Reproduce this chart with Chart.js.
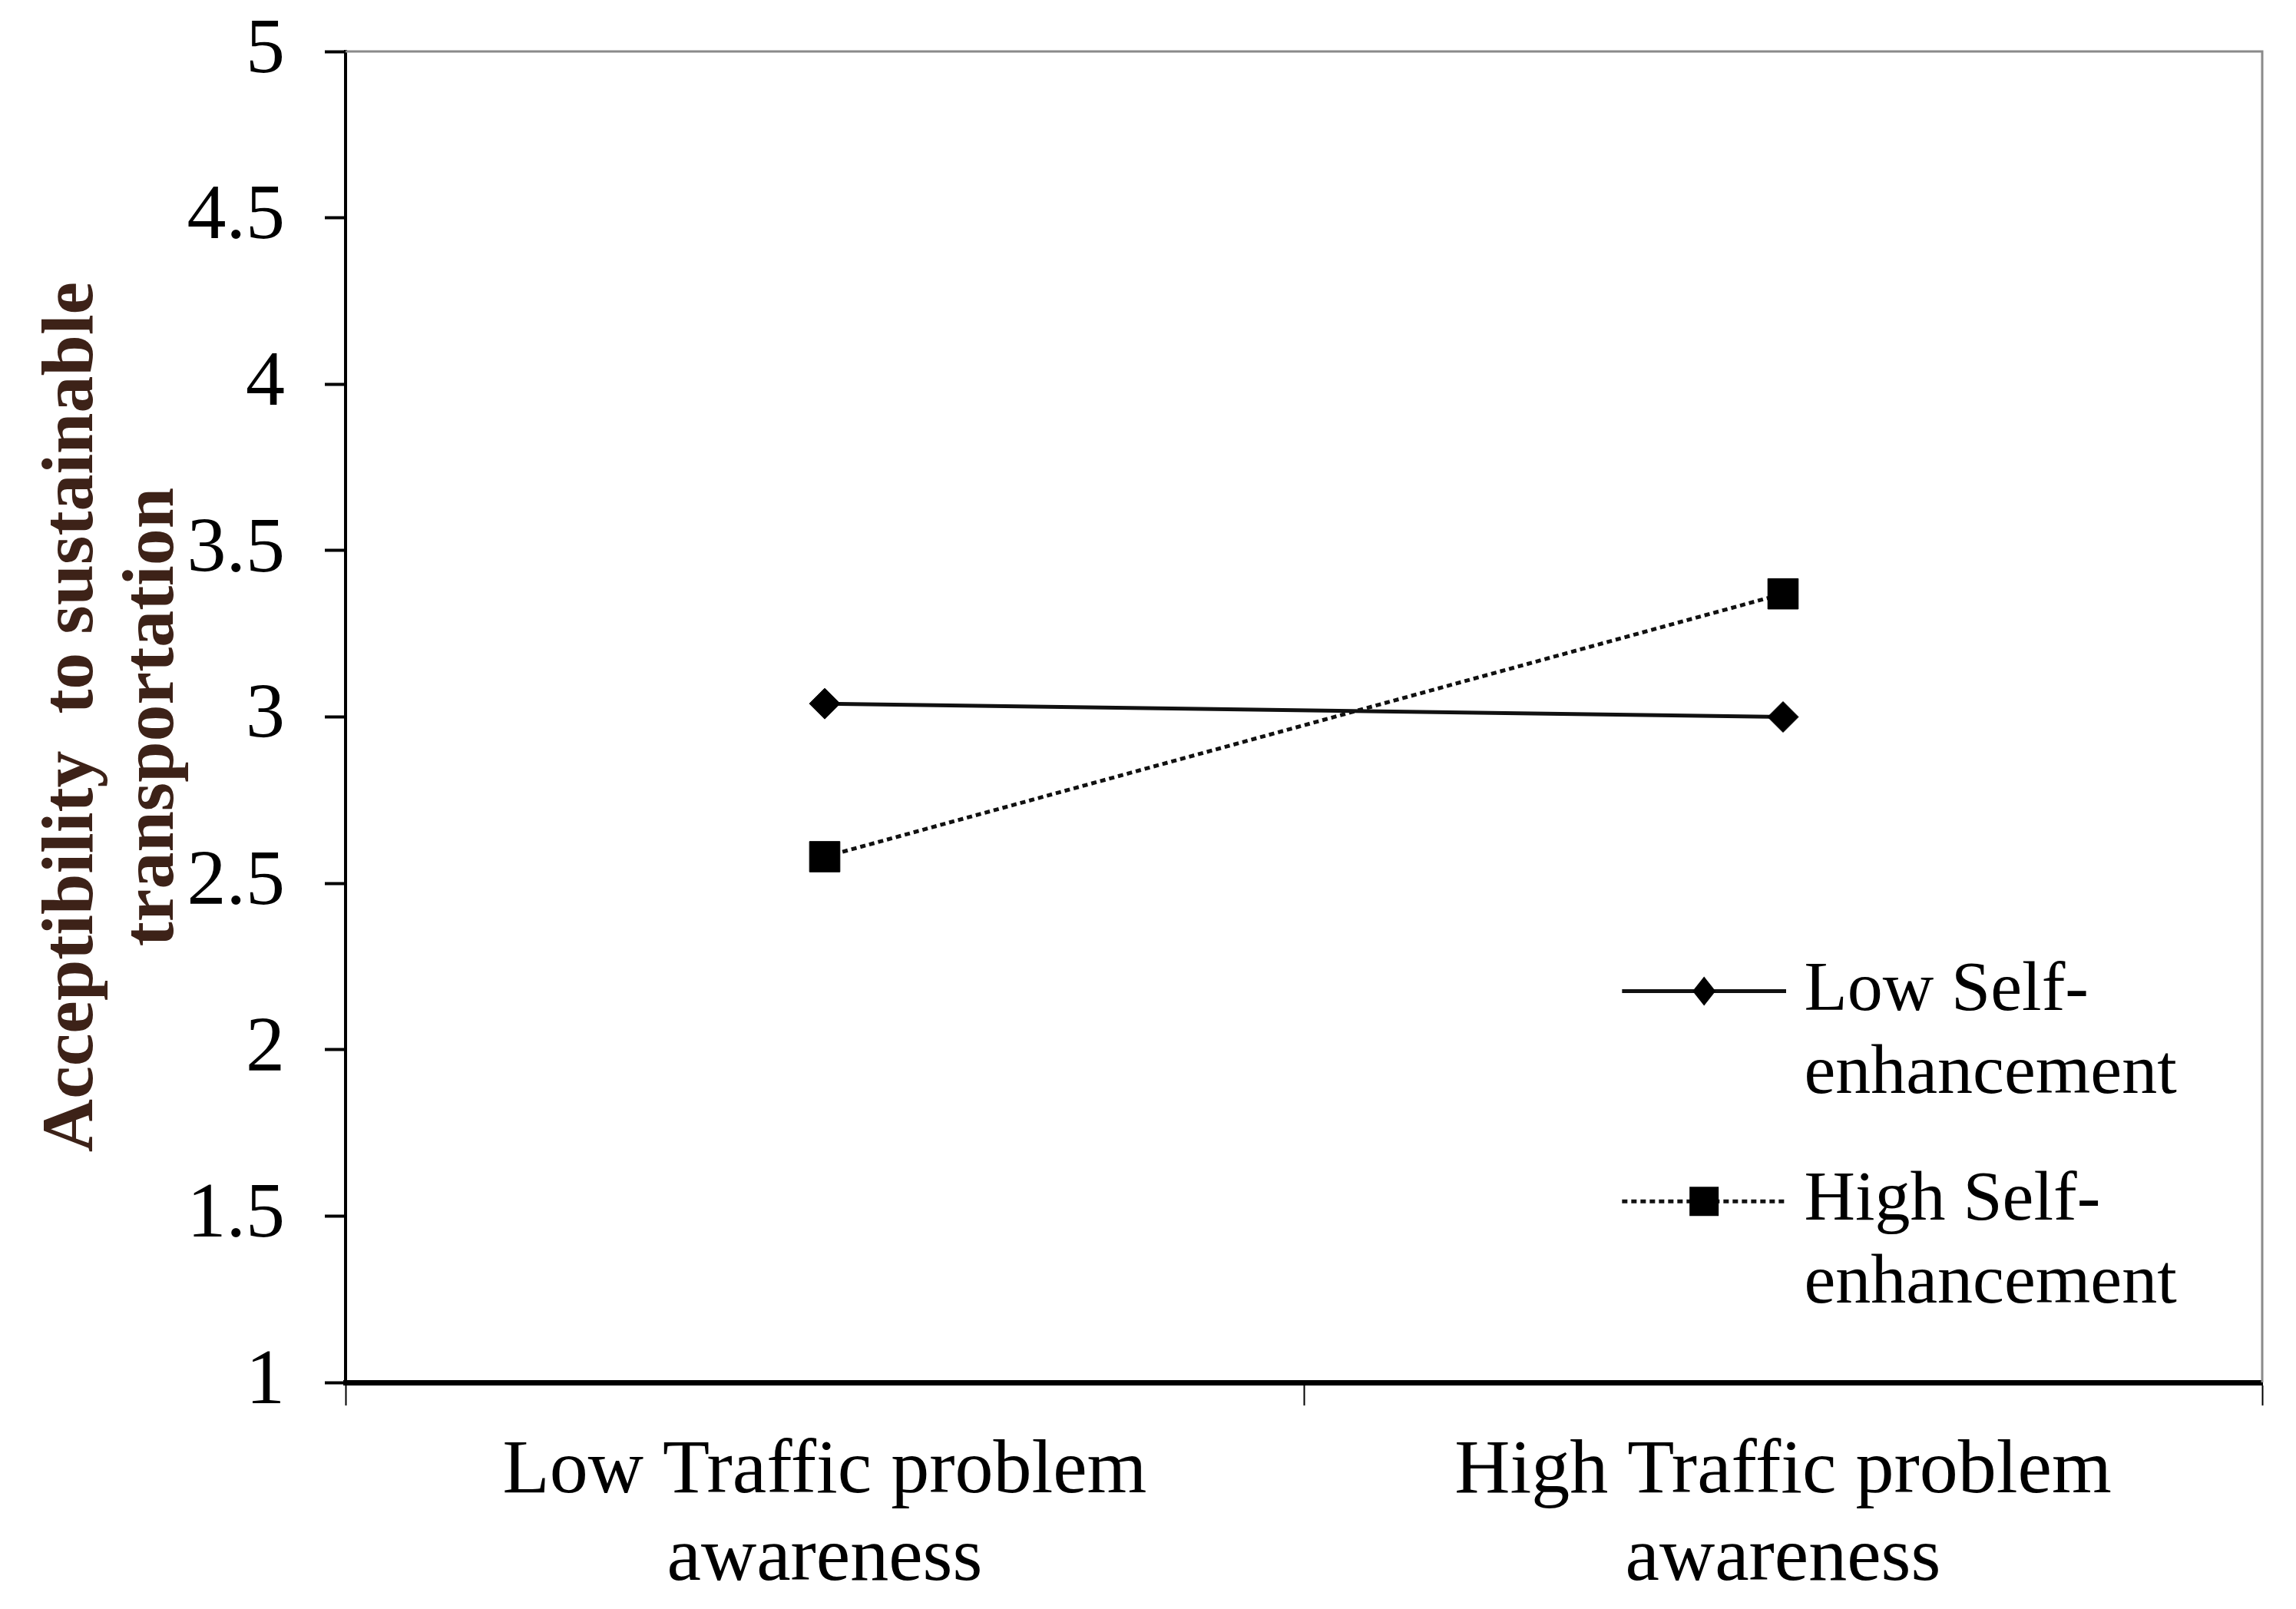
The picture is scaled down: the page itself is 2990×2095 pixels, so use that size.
<!DOCTYPE html>
<html lang="en">
<head>
    <meta charset="UTF-8">
    <title>Acceptibility to sustainable transportation</title>
    <script src="https://cdn.jsdelivr.net/npm/chart.js"></script>
    <style>
        body {
            margin: 0;
            background-color: white;
        }
        .container {
            width: 2990px;
            height: 2095px;
            position: relative;
        }
    </style>
</head>
<body>
    <div class="container">
        <canvas id="interactionChart"></canvas>
    </div>

    <script>
        // Chart values
        const categories = [['Low Traffic problem', 'awareness'], ['High Traffic problem', 'awareness']];
        const lowSelfEnhancement = [3.04, 3.00];
        const highSelfEnhancement = [2.58, 3.37];
        const yTickValues = [1, 1.5, 2, 2.5, 3, 3.5, 4, 4.5, 5];
        const seriesNames = [['Low Self-', 'enhancement'], ['High Self-', 'enhancement']];
        const yTitle = ['Acceptibility  to sustainable', 'transportation'];

        const serif = "'Liberation Serif', 'Times New Roman', serif";

        // Grey frame on top and right of the plot area
        const framePlugin = {
            id: 'frame',
            afterDraw(chart) {
                const { ctx, chartArea: a } = chart;
                ctx.save();
                ctx.strokeStyle = '#8a8a8a';
                ctx.lineWidth = 3;
                ctx.beginPath();
                ctx.moveTo(a.left, a.top);
                ctx.lineTo(a.right, a.top);
                ctx.lineTo(a.right, a.bottom);
                ctx.stroke();
                ctx.restore();
            }
        };

        // Legend drawn inside the plot area, with two-line labels
        const legendPlugin = {
            id: 'insideLegend',
            afterDatasetsDraw(chart) {
                const { ctx, chartArea: a } = chart;
                const w = a.right - a.left;
                const h = a.bottom - a.top;
                const x1 = a.left + w * 0.666;
                const x2 = a.left + w * 0.7516;
                const tx = a.left + w * 0.761;
                const rows = [a.top + h * 0.706, a.top + h * 0.864];

                chart.data.datasets.forEach((ds, i) => {
                    const y = rows[i];
                    ctx.save();
                    ctx.strokeStyle = ds.borderColor;
                    ctx.lineWidth = ds.borderWidth;
                    ctx.setLineDash(ds.borderDash || []);
                    ctx.beginPath();
                    ctx.moveTo(x1, y);
                    ctx.lineTo(x2, y);
                    ctx.stroke();
                    ctx.setLineDash([]);

                    const cx = (x1 + x2) / 2;
                    ctx.fillStyle = '#000';
                    ctx.beginPath();
                    if (ds.pointStyle === 'rectRot') {
                        ctx.moveTo(cx, y - 19);
                        ctx.lineTo(cx + 15, y);
                        ctx.lineTo(cx, y + 19);
                        ctx.lineTo(cx - 15, y);
                        ctx.closePath();
                    } else {
                        ctx.rect(cx - 19, y - 19, 38, 38);
                    }
                    ctx.fill();

                    ctx.font = '92px ' + serif;
                    ctx.textAlign = 'left';
                    ctx.textBaseline = 'middle';
                    seriesNames[i].forEach((line, j) => {
                        ctx.fillText(line, tx, y + j * 108);
                    });
                    ctx.restore();
                });
            }
        };

        const ctx = document.getElementById('interactionChart').getContext('2d');
        const interactionChart = new Chart(ctx, {
            type: 'line',
            data: {
                labels: categories,
                datasets: [{
                    label: 'Low Self-enhancement',
                    data: lowSelfEnhancement,
                    borderColor: '#111',
                    borderWidth: 5,
                    pointStyle: 'rectRot',
                    pointRadius: 20,
                    pointBackgroundColor: '#000',
                    pointBorderColor: '#000',
                    pointBorderWidth: 1,
                    fill: false,
                    tension: 0
                }, {
                    label: 'High Self-enhancement',
                    data: highSelfEnhancement,
                    borderColor: '#111',
                    borderWidth: 5,
                    borderDash: [7, 5],
                    pointStyle: 'rect',
                    pointRadius: 28,
                    pointBackgroundColor: '#000',
                    pointBorderColor: '#000',
                    pointBorderWidth: 1,
                    fill: false,
                    tension: 0
                }]
            },
            options: {
                responsive: true,
                maintainAspectRatio: false,
                devicePixelRatio: 1,
                animation: false,
                layout: {
                    padding: { top: 67, right: 44, left: 0, bottom: 0 }
                },
                plugins: {
                    legend: { display: false },
                    tooltip: { enabled: false }
                },
                scales: {
                    x: {
                        type: 'category',
                        offset: true,
                        grid: {
                            offset: true,
                            drawOnChartArea: false,
                            drawTicks: true,
                            tickLength: 30,
                            tickColor: '#000',
                            tickWidth: 2
                        },
                        border: { display: true, color: '#000', width: 7 },
                        ticks: {
                            color: '#000',
                            font: { family: serif, size: 100, lineHeight: 1.14 },
                            padding: 30,
                            maxRotation: 0,
                            autoSkip: false
                        },
                        afterFit(scale) { scale.height = 295; }
                    },
                    y: {
                        min: 1,
                        max: 5,
                        grid: {
                            drawOnChartArea: false,
                            drawTicks: true,
                            tickLength: 27,
                            tickColor: '#000',
                            tickWidth: 4
                        },
                        border: { display: true, color: '#000', width: 4 },
                        afterBuildTicks(scale) {
                            scale.ticks = yTickValues.map(v => ({ value: v }));
                        },
                        ticks: {
                            color: '#000',
                            font: { family: serif, size: 102 },
                            padding: 52,
                            callback: (v) => String(v)
                        },
                        title: {
                            display: true,
                            text: yTitle,
                            color: '#3d2218',
                            font: { family: serif, size: 96, weight: 'bold', lineHeight: 1.1 },
                            padding: { top: 42, bottom: 0 }
                        },
                        afterFit(scale) {
                            scale.width = 450;
                            // keep the plot top fixed by the layout padding alone
                            scale.paddingTop = 0;
                            scale.paddingBottom = 0;
                        }
                    }
                }
            },
            plugins: [framePlugin, legendPlugin]
        });
    </script>
</body>
</html>
